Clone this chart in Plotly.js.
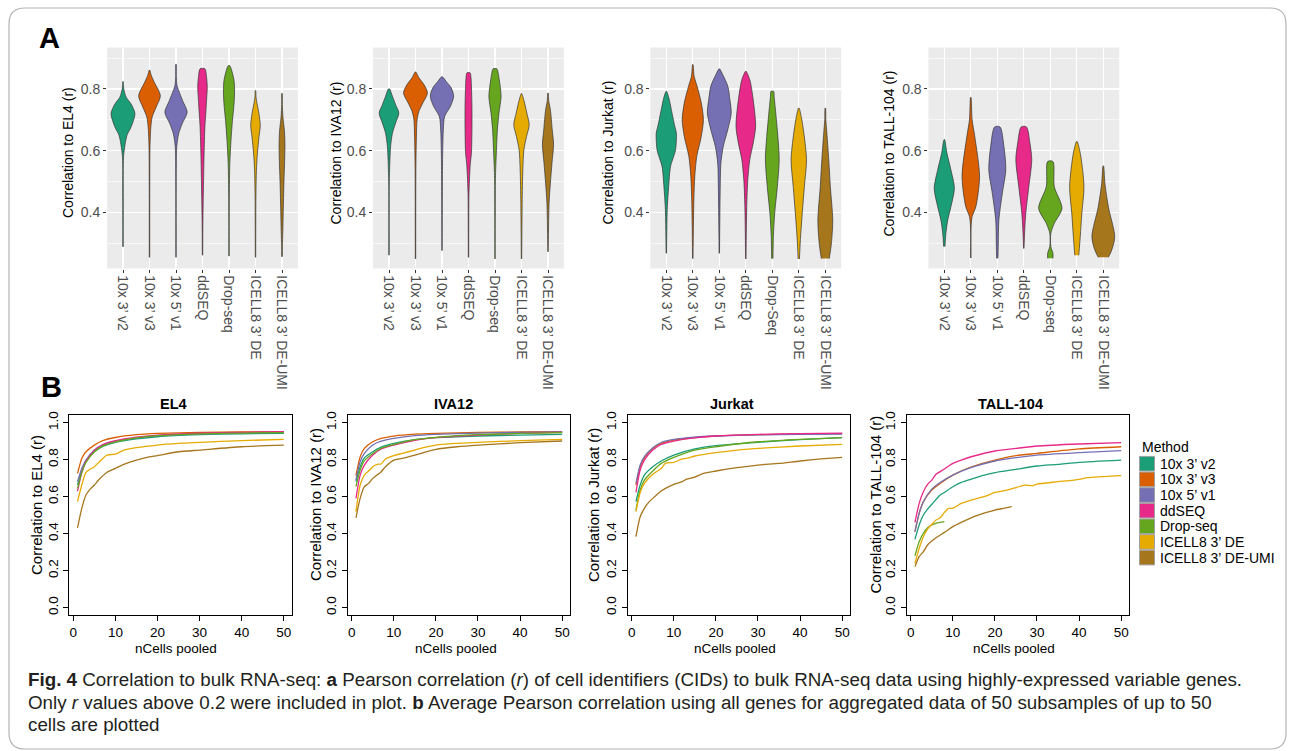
<!DOCTYPE html>
<html><head><meta charset="utf-8">
<script src="https://cdn.plot.ly/plotly-3.0.1.min.js"></script>
<style>html,body{margin:0;padding:0;background:#fff}#chart{width:1292px;height:751px}</style>
</head><body><div id="chart"></div>
<script>
// ---------- categories / labels ----------
const methods = ['10x 3’ v2','10x 3’ v3','10x 5’ v1','ddSEQ','Drop-seq','ICELL8 3’ DE','ICELL8 3’ DE-UMI'];
const jurkatTicks = ['10x 3’ v2','10x 3’ v3','10x 5’ v1','ddSEQ','Drop-Seq','ICELL8 3’ DE','ICELL8 3’ DE-UMI'];
const colors = ['#1B9E77','#D95F02','#7570B3','#E7298A','#66A61E','#E6AB02','#A6761D'];
const cellLines = ['EL4','IVA12','Jurkat','TALL-104'];
const violinTicks = [0.4,0.6,0.8];
const pooledTicksX = [0,10,20,30,40,50];
const pooledTicksY = [0,0.2,0.4,0.6,0.8,1.0];

// ---------- panel A: violin density profiles (r level, half-width) ----------
const el4R = [
 [0.289,0.45,0.58,0.61,0.65,0.676,0.72,0.752,0.773,0.80,0.824],
 [0.255,0.5,0.6,0.633,0.676,0.709,0.741,0.778,0.82,0.843,0.861],
 [0.255,0.5,0.6,0.623,0.655,0.687,0.725,0.762,0.795,0.81,0.84,0.88],
 [0.262,0.35,0.429,0.504,0.59,0.676,0.73,0.773,0.805,0.84,0.865],
 [0.259,0.45,0.558,0.633,0.698,0.752,0.79,0.827,0.86,0.875],
 [0.255,0.45,0.537,0.59,0.644,0.682,0.72,0.752,0.773,0.795],
 [0.257,0.29,0.354,0.418,0.504,0.569,0.623,0.666,0.709,0.75,0.786]];
const el4W = [
 [0.008,0.01,0.02,0.06,0.15,0.3,0.45,0.3,0.12,0.03,0.006],
 [0.008,0.01,0.015,0.025,0.05,0.1,0.25,0.41,0.19,0.07,0.006],
 [0.008,0.01,0.02,0.04,0.1,0.23,0.42,0.25,0.1,0.04,0.012,0.006],
 [0.008,0.012,0.025,0.04,0.06,0.09,0.13,0.16,0.18,0.15,0.09],
 [0.008,0.012,0.03,0.075,0.13,0.19,0.21,0.19,0.1,0.03],
 [0.008,0.015,0.035,0.07,0.13,0.18,0.13,0.06,0.02,0.006],
 [0.012,0.015,0.035,0.05,0.075,0.1,0.11,0.09,0.035,0.012,0.006]];

const iva12R = [
 [0.262,0.5,0.571,0.614,0.657,0.69,0.722,0.749,0.776,0.80],
 [0.25,0.55,0.646,0.70,0.728,0.755,0.787,0.814,0.836,0.855],
 [0.277,0.5,0.592,0.668,0.711,0.744,0.776,0.803,0.825,0.839],
 [0.255,0.45,0.506,0.56,0.592,0.668,0.744,0.809,0.84,0.852],
 [0.25,0.5,0.538,0.592,0.668,0.722,0.776,0.83,0.855,0.865],
 [0.25,0.43,0.538,0.603,0.646,0.684,0.722,0.76,0.785],
 [0.273,0.43,0.495,0.56,0.62,0.668,0.733,0.76,0.787]];
const iva12W = [
 [0.008,0.012,0.035,0.06,0.13,0.25,0.37,0.25,0.13,0.02],
 [0.008,0.015,0.035,0.06,0.13,0.28,0.45,0.32,0.13,0.01],
 [0.008,0.015,0.025,0.05,0.1,0.32,0.44,0.35,0.15,0.02],
 [0.008,0.015,0.035,0.07,0.11,0.13,0.13,0.11,0.09,0.06],
 [0.008,0.015,0.025,0.05,0.09,0.15,0.23,0.16,0.11,0.07],
 [0.008,0.025,0.05,0.09,0.19,0.29,0.2,0.1,0.006],
 [0.008,0.04,0.09,0.15,0.21,0.16,0.09,0.03,0.006]];

const jurkatR = [
 [0.268,0.376,0.42,0.484,0.549,0.582,0.603,0.657,0.679,0.733,0.77,0.792],
 [0.251,0.441,0.517,0.582,0.646,0.70,0.755,0.809,0.841,0.879],
 [0.268,0.484,0.56,0.614,0.668,0.722,0.765,0.809,0.846,0.865],
 [0.25,0.42,0.506,0.571,0.625,0.679,0.765,0.83,0.857],
 [0.251,0.322,0.398,0.484,0.571,0.646,0.722,0.775,0.792],
 [0.25,0.312,0.398,0.484,0.571,0.657,0.711,0.738],
 [0.251,0.30,0.376,0.484,0.571,0.668,0.70,0.738]];
const jurkatW = [
 [0.008,0.025,0.04,0.09,0.16,0.28,0.35,0.38,0.32,0.19,0.1,0.01],
 [0.008,0.04,0.075,0.15,0.32,0.4,0.32,0.16,0.05,0.006],
 [0.008,0.035,0.06,0.15,0.32,0.45,0.4,0.32,0.13,0.01],
 [0.008,0.035,0.075,0.15,0.28,0.37,0.28,0.15,0.01],
 [0.025,0.04,0.09,0.19,0.26,0.21,0.13,0.07,0.05],
 [0.025,0.06,0.13,0.21,0.29,0.19,0.09,0.01],
 [0.15,0.23,0.28,0.19,0.13,0.05,0.02,0.006]];

const tallR = [
 [0.29,0.333,0.376,0.419,0.479,0.538,0.592,0.636],
 [0.253,0.35,0.387,0.419,0.517,0.646,0.70,0.773],
 [0.252,0.29,0.376,0.463,0.538,0.614,0.677],
 [0.284,0.344,0.398,0.484,0.571,0.625,0.677],
 [0.252,0.268,0.29,0.333,0.365,0.414,0.484,0.565],
 [0.262,0.322,0.398,0.484,0.592,0.63],
 [0.255,0.279,0.322,0.419,0.495,0.551]];
const tallW = [
 [0.025,0.06,0.13,0.25,0.38,0.25,0.1,0.01],
 [0.008,0.01,0.05,0.19,0.33,0.15,0.05,0.006],
 [0.025,0.035,0.06,0.19,0.32,0.25,0.1],
 [0.008,0.035,0.075,0.19,0.3,0.23,0.1],
 [0.1,0.1,0.02,0.02,0.15,0.44,0.15,0.1],
 [0.075,0.13,0.19,0.27,0.13,0.01],
 [0.19,0.32,0.43,0.19,0.06,0.008]];

// ---------- panel B: pooled correlation curves ----------
const xStd = [1,2,3,5,7,10,15,20,30,40,50];
const el4X = [xStd, xStd, xStd, xStd, xStd,
 [1,2,3,5,6,8,10,12,15,20,25,30,40,50],
 [1,2,3,4,5,6,8,10,12,15,18,20,25,30,40,50]];
const el4Y = [
 [0.663,0.739,0.79,0.843,0.872,0.894,0.912,0.924,0.935,0.94,0.942],
 [0.726,0.807,0.843,0.879,0.903,0.92,0.935,0.942,0.948,0.95,0.951],
 [0.681,0.753,0.798,0.852,0.88,0.9,0.918,0.93,0.94,0.945,0.948],
 [0.63,0.73,0.79,0.85,0.882,0.903,0.922,0.933,0.943,0.948,0.951],
 [0.645,0.73,0.785,0.843,0.875,0.897,0.918,0.93,0.94,0.944,0.946],
 [0.573,0.663,0.732,0.762,0.785,0.825,0.83,0.852,0.865,0.879,0.888,0.894,0.903,0.91],
 [0.432,0.537,0.609,0.641,0.663,0.69,0.732,0.753,0.775,0.798,0.815,0.822,0.843,0.852,0.87,0.879]];

const iva12X = [xStd, xStd, xStd, xStd, xStd,
 [1,2,3,4,5,6,7,8,10,12,15,17,20,25,30,40,50],
 [1,2,3,4,5,7,8,10,12,15,20,25,30,40,50]];
const iva12Y = [
 [0.681,0.762,0.81,0.843,0.868,0.888,0.908,0.919,0.928,0.933,0.937],
 [0.714,0.816,0.861,0.897,0.915,0.928,0.938,0.942,0.947,0.95,0.951],
 [0.69,0.789,0.834,0.879,0.9,0.915,0.93,0.937,0.944,0.948,0.95],
 [0.591,0.717,0.771,0.825,0.858,0.879,0.905,0.919,0.933,0.942,0.948],
 [0.654,0.744,0.795,0.834,0.862,0.883,0.908,0.921,0.935,0.942,0.946],
 [0.519,0.663,0.717,0.739,0.762,0.775,0.777,0.804,0.822,0.834,0.852,0.865,0.879,0.888,0.894,0.903,0.91],
 [0.486,0.591,0.654,0.672,0.699,0.735,0.762,0.798,0.807,0.825,0.856,0.87,0.879,0.892,0.901]];

const jurkatX = [xStd, xStd, xStd, xStd, xStd,
 [1,2,3,5,7,8,10,12,13,15,20,25,30,40,50],
 [1,2,3,4,5,7,8,10,12,13,15,17,20,25,30,35,40,45,50]];
const jurkatY = [
 [0.573,0.663,0.717,0.762,0.793,0.825,0.858,0.876,0.894,0.908,0.919],
 [0.663,0.762,0.81,0.861,0.888,0.906,0.92,0.928,0.935,0.939,0.941],
 [0.672,0.771,0.816,0.865,0.893,0.91,0.922,0.928,0.934,0.937,0.939],
 [0.623,0.744,0.798,0.852,0.882,0.901,0.918,0.928,0.937,0.941,0.944],
 [0.528,0.636,0.69,0.739,0.78,0.813,0.852,0.87,0.897,0.91,0.919],
 [0.519,0.623,0.672,0.721,0.753,0.78,0.786,0.804,0.807,0.82,0.838,0.852,0.861,0.874,0.883],
 [0.384,0.492,0.537,0.569,0.591,0.631,0.645,0.667,0.681,0.695,0.706,0.726,0.739,0.757,0.771,0.78,0.793,0.804,0.813]];

const tallX = [
 [1,2,3,4,5,7,8,10,12,15,17,20,25,30,35,40,50],
 [1,2,3,5,7,10,15,20,25,30,40,50],
 [1,2,3,5,7,10,15,20,25,30,40,50],
 [1,2,3,4,5,6,8,10,12,15,20,25,30,40,50],
 [1,2,3,4,5,6,7,8],
 [1,2,3,4,5,6,7,8,9,10,12,15,18,20,22,25,27,29,30,35,40,42,50],
 [1,2,3,4,5,6,8,10,12,15,18,20,22,24]];
const tallY = [
 [0.369,0.447,0.501,0.533,0.559,0.609,0.623,0.654,0.677,0.699,0.714,0.73,0.748,0.766,0.775,0.786,0.798],
 [0.411,0.51,0.573,0.636,0.672,0.717,0.766,0.798,0.822,0.834,0.858,0.87],
 [0.411,0.51,0.573,0.641,0.677,0.717,0.762,0.793,0.811,0.825,0.838,0.849],
 [0.461,0.564,0.627,0.667,0.69,0.721,0.75,0.78,0.798,0.82,0.847,0.861,0.874,0.885,0.892],
 [0.281,0.357,0.402,0.432,0.447,0.456,0.461,0.465],
 [0.24,0.321,0.384,0.425,0.45,0.474,0.486,0.515,0.537,0.537,0.564,0.586,0.605,0.623,0.631,0.649,0.663,0.659,0.668,0.681,0.694,0.703,0.714],
 [0.222,0.276,0.303,0.339,0.36,0.378,0.407,0.438,0.461,0.492,0.515,0.528,0.537,0.546]];

const caption = [
 '<b>Fig. 4</b> Correlation to bulk RNA-seq: <b>a</b> Pearson correlation (<i>r</i>) of cell identifiers (CIDs) to bulk RNA-seq data using highly-expressed variable genes.',
 'Only <i>r</i> values above 0.2 were included in plot. <b>b</b> Average Pearson correlation using all genes for aggregated data of 50 subsamples of up to 50',
 'cells are plotted'];

// ---------- layout geometry (pixels) ----------
const W = 1292, H = 751;
const PX = p => p / W, PY = p => 1 - p / H;
const ARIAL = 'Liberation Sans, Arial, Helvetica, sans-serif';
const aDomX = [[107.1,297.9],[373.1,563.9],[650.4,841.2],[928.4,1119.2]];
const aDomY = [268.5, 47.5];
const aTitleX = [68, 335.5, 607.5, 888.5];
const bDomX = [[69.3,292],[347.7,570.4],[627.7,850.4],[906.7,1129.4]];
const bDomY = [615.1, 415.3];
const bYTitleX = [37, 316, 594, 875.5];
const bTitleX = [173.5, 453.5, 731.5, 1010.5];
const bXTitleX = [176, 456, 735, 1014];

const violinR = [el4R, iva12R, jurkatR, tallR];
const violinW = [el4W, iva12W, jurkatW, tallW];
const pooledX = [el4X, iva12X, jurkatX, tallX];
const pooledY = [el4Y, iva12Y, jurkatY, tallY];
const aTickSets = [methods, methods, jurkatTicks, methods];

const traces = [];
const layout = {
  width: W, height: H, margin: {l:0, r:0, t:0, b:0},
  paper_bgcolor: '#fff', plot_bgcolor: 'rgba(0,0,0,0)',
  showlegend: false, font: {family: ARIAL, color: '#000'},
  shapes: [], annotations: []
};

function ann(text, x, y, opts) {
  return Object.assign({text, x: PX(x), y: PY(y), xref: 'paper', yref: 'paper',
    showarrow: false, xanchor: 'center', yanchor: 'middle'}, opts || {});
}

for (let p = 0; p < 4; p++) {
  const n = p + 1;
  const xa = 'x' + n, ya = 'y' + n;
  layout['xaxis' + n] = {
    domain: [PX(aDomX[p][0]), PX(aDomX[p][1])], anchor: ya, range: [-0.6, 6.6],
    tickmode: 'array', tickvals: [0,1,2,3,4,5,6], ticktext: aTickSets[p], tickangle: 90,
    tickfont: {family: ARIAL, size: 14, color: '#4d4d4d'},
    ticks: 'outside', ticklen: 3, tickwidth: 1, tickcolor: '#333',
    showgrid: true, gridcolor: '#ffffff', gridwidth: 1.2, zeroline: false, showline: false, fixedrange: true
  };
  layout['yaxis' + n] = {
    domain: [PY(aDomY[0]), PY(aDomY[1])], anchor: xa, range: [0.219, 0.934],
    tickmode: 'array', tickvals: violinTicks, ticktext: violinTicks.map(v => v.toFixed(1)),
    tickfont: {family: ARIAL, size: 14, color: '#4d4d4d'},
    ticks: 'outside', ticklen: 3, tickwidth: 1, tickcolor: '#333',
    showgrid: true, gridcolor: '#ffffff', gridwidth: 1.2, zeroline: false, showline: false,
    minor: {tickmode: 'array', tickvals: [0.3,0.5,0.7,0.9], showgrid: true, gridcolor: '#ffffff', gridwidth: 0.6, ticks: ''},
    fixedrange: true
  };
  layout.shapes.push({type: 'rect', xref: xa + ' domain', yref: ya + ' domain', x0: 0, x1: 1, y0: 0, y1: 1,
    fillcolor: '#EBEBEB', line: {width: 0}, layer: 'below'});
  for (let m = 0; m < 7; m++) {
    const r = violinR[p][m], w = violinW[p][m];
    const xs = [], ys = [];
    for (let k = 0; k < r.length; k++) { xs.push(m - w[k]); ys.push(r[k]); }
    for (let k = r.length - 1; k >= 0; k--) { xs.push(m + w[k]); ys.push(r[k]); }
    traces.push({type: 'scatter', mode: 'lines', x: xs, y: ys, xaxis: xa, yaxis: ya,
      fill: 'toself', fillcolor: colors[m],
      line: {color: '#333333', width: 0.7, shape: 'spline', smoothing: 0.8},
      hoverinfo: 'skip', name: methods[m]});
  }
  layout.annotations.push(ann('Correlation to ' + cellLines[p] + ' (r)', aTitleX[p], 153,
    {textangle: -90, font: {family: ARIAL, size: 14, color: '#000'}}));

  // panel B
  const nb = p + 5;
  const xb = 'x' + nb, yb = 'y' + nb;
  layout['xaxis' + nb] = {
    domain: [PX(bDomX[p][0]), PX(bDomX[p][1])], anchor: yb, range: [-0.96, 51.96],
    tickmode: 'array', tickvals: pooledTicksX, ticktext: pooledTicksX.map(String),
    tickfont: {family: ARIAL, size: 13.5, color: '#000'},
    ticks: 'outside', ticklen: 5, tickwidth: 1, tickcolor: '#000',
    showline: true, mirror: true, linecolor: '#000', linewidth: 1,
    showgrid: false, zeroline: false, fixedrange: true
  };
  layout['yaxis' + nb] = {
    domain: [PY(bDomY[0]), PY(bDomY[1])], anchor: xb, range: [-0.04, 1.04],
    tickmode: 'array', tickvals: pooledTicksY, ticktext: pooledTicksY.map(v => v.toFixed(1)), tickangle: -90,
    tickfont: {family: ARIAL, size: 13.5, color: '#000'},
    ticks: 'outside', ticklen: 5, tickwidth: 1, tickcolor: '#000',
    showline: true, mirror: true, linecolor: '#000', linewidth: 1,
    showgrid: false, zeroline: false, fixedrange: true
  };
  for (let m = 0; m < 7; m++) {
    traces.push({type: 'scatter', mode: 'lines', x: pooledX[p][m], y: pooledY[p][m], xaxis: xb, yaxis: yb,
      line: {color: colors[m], width: 1.3, shape: 'spline', smoothing: 0.6},
      hoverinfo: 'skip', name: methods[m]});
  }
  layout.annotations.push(ann('<b>' + cellLines[p] + '</b>', bTitleX[p], 404, {font: {family: ARIAL, size: 14.5, color: '#000'}}));
  layout.annotations.push(ann('Correlation to ' + cellLines[p] + ' (r)', bYTitleX[p], 505,
    {textangle: -90, font: {family: ARIAL, size: 15, color: '#000'}}));
  layout.annotations.push(ann('nCells pooled', bXTitleX[p], 648, {font: {family: ARIAL, size: 13.5, color: '#000'}}));
}

// panel letters
layout.annotations.push(ann('<b>A</b>', 49, 38, {font: {family: ARIAL, size: 29, color: '#000'}}));
layout.annotations.push(ann('<b>B</b>', 51, 387, {font: {family: ARIAL, size: 29, color: '#000'}}));

// legend (Method)
layout.annotations.push(ann('Method', 1140, 447, {xanchor: 'left', font: {family: ARIAL, size: 14, color: '#000'}}));
for (let m = 0; m < 7; m++) {
  const cy = 463.7 + m * 15.65;
  layout.shapes.push({type: 'rect', xref: 'paper', yref: 'paper',
    x0: PX(1139.5), x1: PX(1154.5), y0: PY(cy + 7.3), y1: PY(cy - 7.3),
    fillcolor: colors[m], line: {color: '#a0a0a0', width: 1}});
  layout.annotations.push(ann(methods[m], 1157.5, cy, {xanchor: 'left', font: {family: ARIAL, size: 14, color: '#000'}}));
}

// caption: fit line width to the reference text block (limited so lines do not collide)
const capFamily = ARIAL;
const ctx = document.createElement('canvas').getContext('2d');
ctx.font = '100px ' + capFamily;
const plain1 = caption[0].replace(/<[^>]+>/g, '');
const capSize = Math.min(18.8, 100 * 1230 / ctx.measureText(plain1).width);
const capY = [679.5, 702, 724.5];
caption.forEach((t, i) => layout.annotations.push(ann(t, 26, capY[i], {xanchor: 'left',
  font: {family: capFamily, size: capSize, color: '#231f20'}})));

// outer rounded border
const bl = 9, br = 1286, bt = 8, bb = 749, rad = 16;
layout.shapes.push({type: 'path', xref: 'paper', yref: 'paper', line: {color: '#b4b4b4', width: 1.2},
  path: `M${PX(bl+rad)},${PY(bt)} L${PX(br-rad)},${PY(bt)} Q${PX(br)},${PY(bt)} ${PX(br)},${PY(bt+rad)} ` +
        `L${PX(br)},${PY(bb-rad)} Q${PX(br)},${PY(bb)} ${PX(br-rad)},${PY(bb)} ` +
        `L${PX(bl+rad)},${PY(bb)} Q${PX(bl)},${PY(bb)} ${PX(bl)},${PY(bb-rad)} ` +
        `L${PX(bl)},${PY(bt+rad)} Q${PX(bl)},${PY(bt)} ${PX(bl+rad)},${PY(bt)} Z`});

Plotly.newPlot('chart', traces, layout, {staticPlot: true, displayModeBar: false});
</script></body></html>
